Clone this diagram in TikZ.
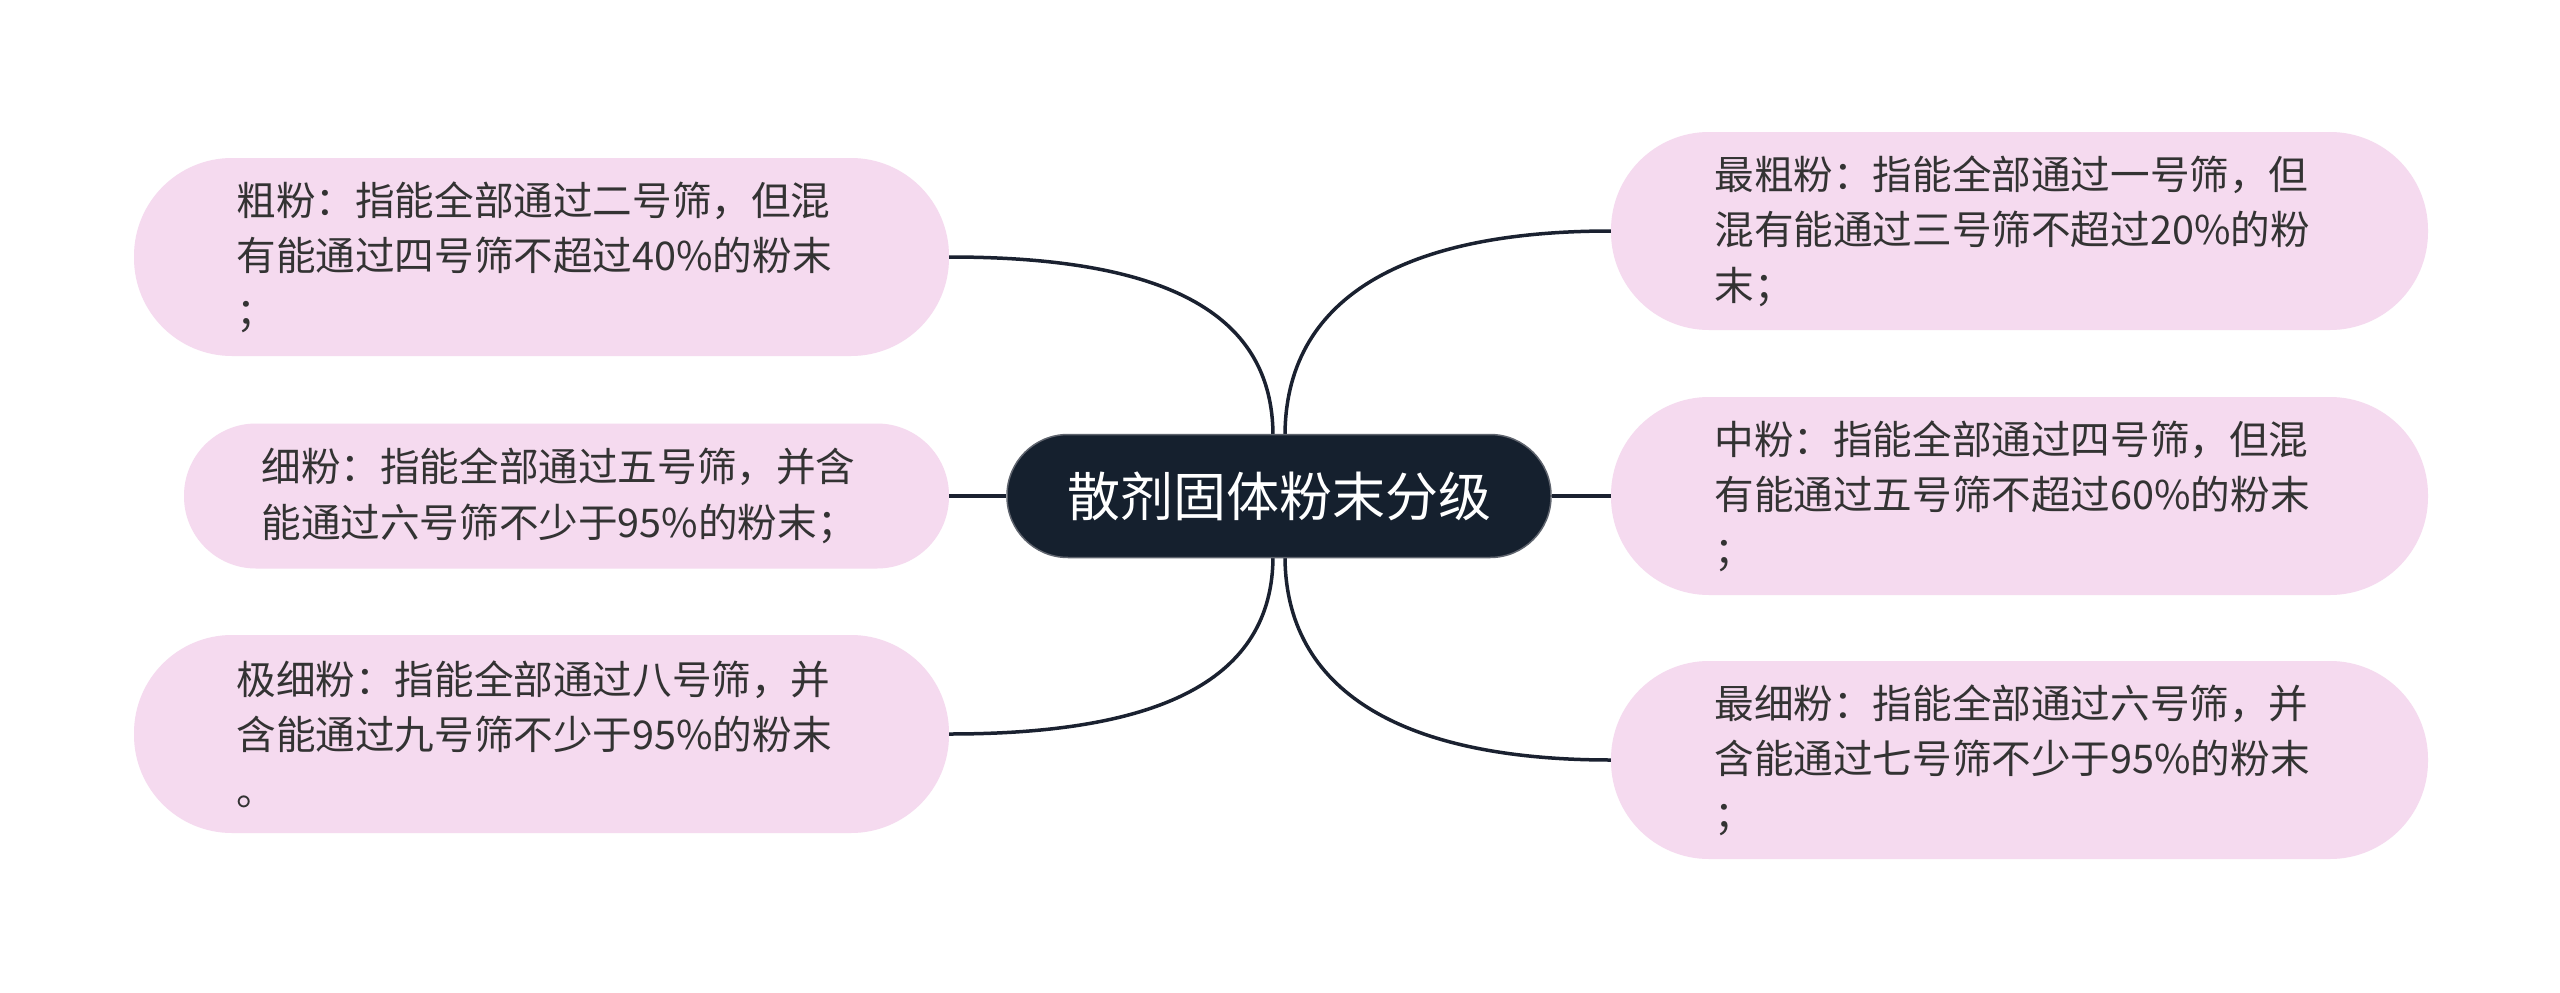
\documentclass[tikz,border=0pt]{standalone}
\usepackage{fontspec}
\newfontfamily\cjk{Noto Sans CJK SC}
\definecolor{pinkfill}{HTML}{F5DAEF}
\definecolor{darknode}{HTML}{15202E}
\definecolor{linecol}{HTML}{1A2130}
\definecolor{txtcol}{HTML}{333333}
\begin{document}
\begin{tikzpicture}[x=1pt,y=-1pt,
  leaf/.style={fill=pinkfill, rounded corners=98pt, minimum height=198pt, inner sep=0pt,
    text width=610pt, align=left, text=txtcol, font=\cjk\fontsize{39.6}{55.5}\selectfont},
  rootbox/.style={fill=darknode, draw=linecol!70, line width=1.5pt, rounded corners=61pt,
    minimum width=544pt, minimum height=123pt, text=white, font=\cjk\fontsize{53}{60}\selectfont},
  link/.style={draw=linecol, line width=3.5pt}]
\useasboundingbox (0,0) rectangle (2560,993);
\fill[white] (0,0) rectangle (2560,993);

\node[leaf, minimum width=815pt] (a) at (541.5,257) {粗粉：指能全部通过二号筛，但混\\有能通过四号筛不超过40\%的粉末\\；};
\node[leaf, minimum width=765pt, minimum height=145pt, rounded corners=72pt] (b) at (566.5,496) {细粉：指能全部通过五号筛，并含\\能通过六号筛不少于95\%的粉末；};
\node[leaf, minimum width=815pt] (c) at (541.5,734) {极细粉：指能全部通过八号筛，并\\含能通过九号筛不少于95\%的粉末\\。};

\node[leaf, minimum width=817pt] (d) at (2019.5,231) {最粗粉：指能全部通过一号筛，但\\混有能通过三号筛不超过20\%的粉\\末；};
\node[leaf, minimum width=817pt] (e) at (2019.5,496) {中粉：指能全部通过四号筛，但混\\有能通过五号筛不超过60\%的粉末\\；};
\node[leaf, minimum width=817pt] (f) at (2019.5,760) {最细粉：指能全部通过六号筛，并\\含能通过七号筛不少于95\%的粉末\\；};

\coordinate (lt) at (1273,436);
\coordinate (lb) at (1273,556);
\coordinate (rt) at (1285,436);
\coordinate (rb) at (1285,556);

\draw[link] (a.east) .. controls (1160,257) and (1273,310) .. (lt);
\draw[link] (c.east) .. controls (1160,734) and (1273,680) .. (lb);
\draw[link] (d.west) .. controls (1400,231) and (1285,300) .. (rt);
\draw[link] (f.west) .. controls (1400,760) and (1285,690) .. (rb);

\node[rootbox] (root) at (1279,496) {散剂固体粉末分级};
\draw[link] (b.east) -- (root.west);
\draw[link] (root.east) -- (e.west);
\end{tikzpicture}
\end{document}
